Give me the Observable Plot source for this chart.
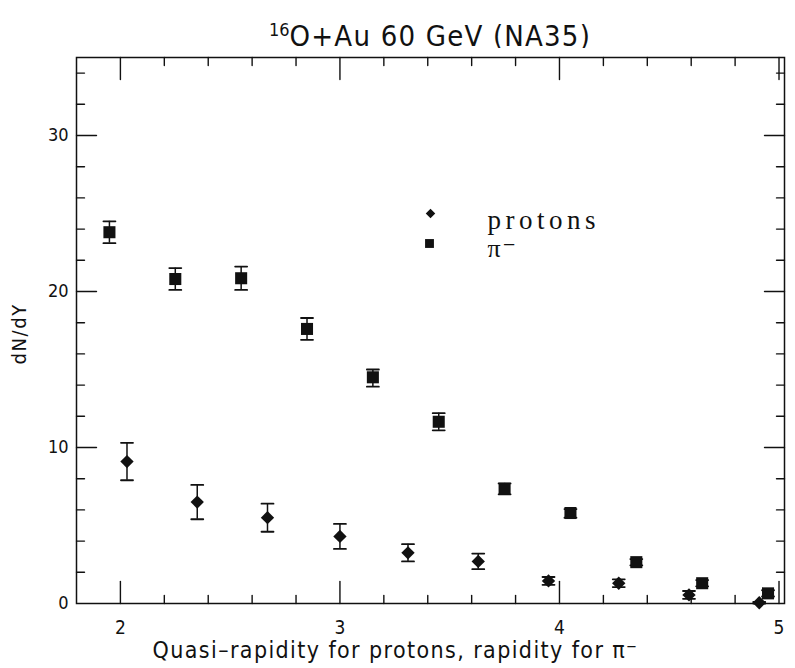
<!DOCTYPE html>
<html>
<head>
<meta charset="utf-8">
<script src="https://cdn.jsdelivr.net/npm/d3@7"></script>
<script src="https://cdn.jsdelivr.net/npm/@observablehq/plot@0.6"></script>
<style>
  html, body { margin: 0; padding: 0; background: #fff; }
  #wrap { position: relative; width: 795px; height: 668px; }
  #title { position: absolute; left: 76px; width: 708px; top: 20px; text-align: center;
    font-family: "DejaVu Sans Condensed", "DejaVu Sans", sans-serif; font-size: 29px; letter-spacing: 1.2px;
    color: #111; line-height: 32px; }
  #title sup { font-size: 18px; vertical-align: 10px; line-height: 0; letter-spacing: 0; }
  #chart { position: absolute; left: 0; top: 48px; }
</style>
</head>
<body>
<div id="wrap">
  <div id="title"><sup>16</sup>O+Au 60 GeV (NA35)</div>
  <div id="chart"></div>
</div>
<script>
// ---- data ----
const pionX   = [1.95, 2.25, 2.55, 2.85, 3.15, 3.45, 3.75, 4.05, 4.35, 4.65, 4.95];
const pionY   = [23.8, 20.8, 20.85, 17.6, 14.5, 11.65, 7.35, 5.8, 2.65, 1.3, 0.65];
const pionLo  = [23.1, 20.1, 20.1, 16.9, 13.9, 11.1, 7.0, 5.5, 2.45, 1.1, 0.45];
const pionHi  = [24.5, 21.5, 21.6, 18.3, 15.0, 12.2, 7.7, 6.05, 2.85, 1.5, 0.85];

const protonX  = [2.03, 2.35, 2.67, 3.0, 3.31, 3.63, 3.95, 4.27, 4.59, 4.91];
const protonY  = [9.1, 6.5, 5.5, 4.3, 3.25, 2.7, 1.45, 1.3, 0.55, 0.05];
const protonLo = [7.9, 5.4, 4.6, 3.5, 2.7, 2.2, 1.2, 1.05, 0.3, 0.0];
const protonHi = [10.3, 7.6, 6.4, 5.1, 3.8, 3.2, 1.7, 1.55, 0.8, 0.1];

const xMajorTicks = [2, 3, 4, 5];
const xMinorTicks = [2.2, 2.4, 2.6, 2.8, 3.2, 3.4, 3.6, 3.8, 4.2, 4.4, 4.6, 4.8];
const yMajorTicks = [0, 10, 20, 30];
const yMinorTicks = [2, 4, 6, 8, 12, 14, 16, 18, 22, 24, 26, 28, 32, 34];
const xTickLabels = ["2", "3", "4", "5"];
const yTickLabels = ["0", "10", "20", "30"];

const seriesNames = ["protons", "π⁻"];
const xTitle = "Quasi\u2013rapidity for protons, rapidity for π⁻";
const yTitle = "dN/dY";

// ---- build tables ----
const pions = pionX.map((x, i) => ({x, y: pionY[i], lo: pionLo[i], hi: pionHi[i]}));
const protons = protonX.map((x, i) => ({x, y: protonY[i], lo: protonLo[i], hi: protonHi[i]}));
const both = pions.concat(protons);

const ink = "#111";
const sans = "'DejaVu Sans Condensed', 'DejaVu Sans', sans-serif";
const serif = "'Liberation Serif', 'DejaVu Serif', serif";
const line = {draw(ctx, l) { ctx.moveTo(0, 0); ctx.lineTo(0, -l); }};

function ticks(values, channel, frameAnchor, rotate, length) {
  return Plot.vector(values, {[channel]: d => d, frameAnchor, rotate, length, anchor: "start",
    shape: line, stroke: ink, strokeWidth: 1.4});
}

const chart = Plot.plot({
  width: 795,
  height: 620,
  marginTop: 9,
  marginBottom: 65,
  marginLeft: 76,
  marginRight: 11,
  x: {domain: [1.8, 5.025], axis: null},
  y: {domain: [0, 35], axis: null},
  style: {fontFamily: sans, color: ink, background: "white"},
  marks: [
    Plot.frame({stroke: ink, strokeWidth: 1.5}),
    // inward ticks on four sides
    ticks(xMajorTicks, "x", "bottom", 0, 22),
    ticks(xMinorTicks, "x", "bottom", 0, 8),
    ticks(xMajorTicks, "x", "top", 180, 22),
    ticks(xMinorTicks, "x", "top", 180, 8),
    ticks(yMajorTicks.filter(d => d > 0), "y", "left", 90, 20),
    ticks(yMinorTicks, "y", "left", 90, 8),
    ticks(yMajorTicks.filter(d => d > 0), "y", "right", -90, 20),
    ticks(yMinorTicks, "y", "right", -90, 8),
    // tick labels
    Plot.text(xTickLabels, {x: d => +d, text: d => d, frameAnchor: "bottom", dy: 30, fontSize: 19, fill: ink}),
    Plot.text(yTickLabels, {y: d => +d, text: d => d, frameAnchor: "left", dx: -8, textAnchor: "end", fontSize: 18, fill: ink}),
    // axis titles
    Plot.text([xTitle], {text: d => d, frameAnchor: "bottom", dy: 54, dx: -35, fontSize: 23, fill: ink}),
    Plot.text([yTitle], {text: d => d, frameAnchor: "left", dx: -57, dy: 34, rotate: -90, fontSize: 20, fill: ink}),
    // error bars
    Plot.ruleX(both, {x: "x", y1: "lo", y2: "hi", stroke: ink, strokeWidth: 1.5}),
    Plot.vector(both, {x: "x", y: "lo", length: 12, rotate: 90, anchor: "middle", shape: line, stroke: ink, strokeWidth: 1.8}),
    Plot.vector(both, {x: "x", y: "hi", length: 12, rotate: 90, anchor: "middle", shape: line, stroke: ink, strokeWidth: 1.8}),
    // markers
    Plot.dot(pions, {x: "x", y: "y", symbol: "square", r: 6.8, fill: ink, stroke: null}),
    Plot.dot(protons, {x: "x", y: "y", symbol: "diamond2", r: 6, fill: ink, stroke: null}),
    // legend
    Plot.dot([seriesNames[0]], {frameAnchor: "top-left", dx: 354, dy: 156, symbol: "diamond2", r: 4.3, fill: ink}),
    Plot.dot([seriesNames[1]], {frameAnchor: "top-left", dx: 353, dy: 186, symbol: "square", r: 5, fill: ink}),
    Plot.text([seriesNames[0]], {text: d => d, frameAnchor: "top-left", dx: 411, dy: 152, textAnchor: "start",
      fontSize: 27, fontFamily: serif, fill: ink}),
    Plot.text([seriesNames[1]], {text: d => d, frameAnchor: "top-left", dx: 411, dy: 181, textAnchor: "start",
      fontSize: 26, fontFamily: serif, fill: ink})
  ]
});

// wide, typewriter-like letter spacing as in the reference
const spacing = new Map([[xTitle, 1.4], [yTitle, 1.6], [seriesNames[0], 4.5], [seriesNames[1], 1.5]]);
d3.select(chart).selectAll("text").each(function () {
  const s = spacing.get(this.textContent);
  if (s != null) this.setAttribute("letter-spacing", s);
});
document.getElementById("chart").appendChild(chart);
</script>
</body>
</html>
